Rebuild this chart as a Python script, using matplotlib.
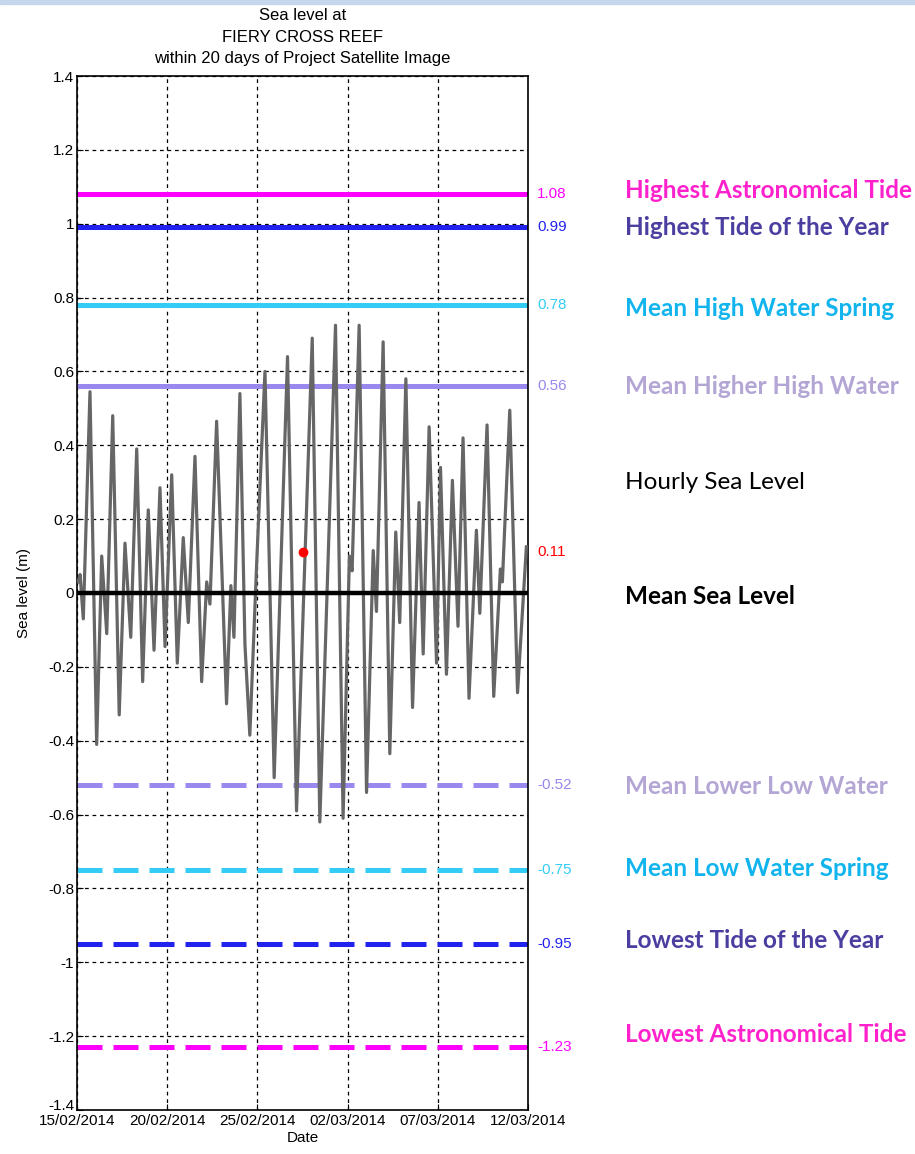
import numpy as np
import matplotlib
matplotlib.use("Agg")
import matplotlib.pyplot as plt
import matplotlib.dates as mdates
import matplotlib.transforms as mtransforms
from matplotlib.patches import Rectangle

plt.rcParams['font.family'] = ['Liberation Sans', 'DejaVu Sans']

# hourly sea level, traced as turning points (days after 15/02/2014, metres)
sl_days = [0.07, 0.17, 0.35, 0.72, 1.09, 1.37, 1.65, 1.98, 2.34, 2.66,
           2.98, 3.31, 3.64, 3.95, 4.27, 4.60, 4.88, 5.25, 5.56, 5.89,
           6.17, 6.54, 6.91, 7.19, 7.37, 7.74, 8.29, 8.53, 8.70, 9.03,
           9.31, 9.58, 9.96, 10.42, 10.93, 11.67, 12.17, 13.04, 13.46, 14.33,
           14.75, 15.10, 15.25, 15.64, 16.05, 16.42, 16.60, 16.97, 17.34, 17.67,
           17.89, 18.23, 18.60, 18.96, 19.19, 19.52, 19.93, 20.15, 20.48, 20.81,
           21.12, 21.40, 21.73, 22.14, 22.33, 22.73, 23.10, 23.47, 23.58, 23.99,
           24.42, 24.91]
sl_vals = [0.03, 0.05, -0.07, 0.545, -0.41, 0.10, -0.11, 0.48, -0.33, 0.135,
           -0.12, 0.39, -0.24, 0.225, -0.155, 0.285, -0.145, 0.32, -0.19, 0.15,
           -0.08, 0.37, -0.24, 0.03, -0.03, 0.465, -0.30, 0.02, -0.12, 0.54,
           -0.14, -0.385, 0.08, 0.60, -0.50, 0.64, -0.59, 0.69, -0.62, 0.725,
           -0.61, 0.10, 0.06, 0.725, -0.54, 0.115, -0.05, 0.68, -0.435, 0.165,
           -0.08, 0.58, -0.31, 0.245, -0.165, 0.45, -0.19, 0.34, -0.22, 0.305,
           -0.09, 0.42, -0.285, 0.17, -0.055, 0.455, -0.28, 0.065, 0.03, 0.495,
           -0.27, 0.125]

image_day = 12.54
image_level = 0.11

# tidal datums
datum_names = ["Highest Astronomical Tide", "Highest Tide of the Year",
               "Mean High Water Spring", "Mean Higher High Water",
               "Mean Lower Low Water", "Mean Low Water Spring",
               "Lowest Tide of the Year", "Lowest Astronomical Tide"]
datum_vals = [1.08, 0.99, 0.78, 0.56, -0.52, -0.75, -0.95, -1.23]
line_cols = ["#ff00ff", "#2222ee", "#33ccf5", "#9988ee",
             "#9988ee", "#33ccf5", "#2222ee", "#ff00ff"]
name_cols = ["#ff22cc", "#4a3fa0", "#11b4ec", "#b3a5d4",
             "#b3a5d4", "#11b4ec", "#4a3fa0", "#ff22cc"]
name_y = [1.09, 0.99, 0.77, 0.56, -0.525, -0.745, -0.94, -1.195]

ytick_vals = [1.4, 1.2, 1, 0.8, 0.6, 0.4, 0.2, 0, -0.2, -0.4, -0.6, -0.8, -1, -1.2, -1.4]

start = np.datetime64("2014-02-15T00:00")
end = np.datetime64("2014-03-12T00:00")
sl_times = start + (np.array(sl_days) * 24 * 60).astype("timedelta64[m]")
img_time = start + np.timedelta64(int(image_day * 24 * 60), "m")

fig = plt.figure(figsize=(9.15, 11.54), dpi=100)
fig.patches.append(Rectangle((0, 1 - 4 / 1154), 1, 4 / 1154, transform=fig.transFigure,
                             color="#c5d7ec", zorder=0))
ax = fig.add_axes([77 / 915, 1 - 1110 / 1154, 451 / 915, 1034 / 1154])

ax.plot(sl_times, sl_vals, color="#666666", lw=2.3, zorder=3)
ax.axhline(0, color="black", lw=3.2, zorder=4)
for i, v in enumerate(datum_vals):
    ls = "-" if v > 0 else (0, (5, 2.2))
    ax.axhline(v, color=line_cols[i], lw=3.6, ls=ls, zorder=2)
ax.plot(img_time, image_level, "o", color="red", ms=6, zorder=5)

ax.set_xlim(start, end)
ax.set_ylim(-1.4, 1.4)
ax.set_yticks(ytick_vals)
ax.set_yticklabels([("%g" % v) for v in ytick_vals])
ax.set_xticks([start + np.timedelta64(5 * k, "D") for k in range(6)])
ax.xaxis.set_major_formatter(mdates.DateFormatter("%d/%m/%Y"))
ax.tick_params(direction="in", length=4, labelsize=11, pad=2)
ax.tick_params(axis="x", pad=3)
ax.grid(True, color="black", ls=(0, (3, 3)), lw=0.9)
for s in ax.spines.values():
    s.set_linewidth(1.2)

# bottom y label sits a little higher, as in the original
bottom_tick = ax.yaxis.get_major_ticks()[-1]
bottom_tick.label1.set_transform(bottom_tick.label1.get_transform() +
                                 mtransforms.ScaledTranslation(0, 5 / 100, fig.dpi_scale_trans))

ax.set_xlabel("Date", fontsize=11, labelpad=2)
ax.set_ylabel("Sea level (m)", fontsize=11, labelpad=12)
ax.set_title("Sea level at\nFIERY CROSS REEF\nwithin 20 days of Project Satellite Image",
             fontsize=12, linespacing=1.55, pad=9)

# value labels just right of the axes
for i, v in enumerate(datum_vals):
    ax.text(1.02, v, "%g" % v, transform=ax.get_yaxis_transform(), color=line_cols[i],
            fontsize=11, va="center", ha="left")
ax.text(1.02, image_level, "0.11", transform=ax.get_yaxis_transform(), color="red",
        fontsize=11, va="center", ha="left")

# datum names
lab_x = (625 - 77) / 451
for i, v in enumerate(datum_names):
    ax.text(lab_x, name_y[i], v, transform=ax.get_yaxis_transform(), color=name_cols[i],
            fontsize=17.5, fontweight="bold", family="Lato", va="center", ha="left")
ax.text(lab_x, 0.30, "Hourly Sea Level", transform=ax.get_yaxis_transform(), color="black",
        fontsize=17.5, family="Lato", va="center", ha="left")
ax.text(lab_x, -0.01, "Mean Sea Level", transform=ax.get_yaxis_transform(), color="black",
        fontsize=17.5, fontweight="bold", family="Lato", va="center", ha="left")

fig.savefig("out.png", dpi=100)
